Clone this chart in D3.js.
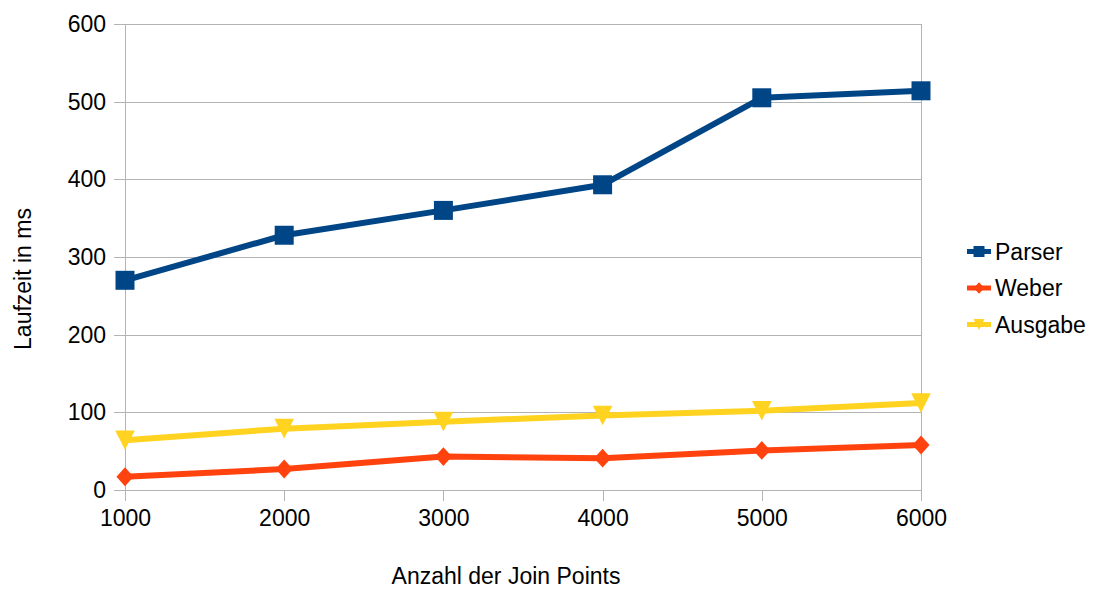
<!DOCTYPE html>
<html>
<head>
<meta charset="utf-8">
<script src="https://cdn.jsdelivr.net/npm/d3@7"></script>
<style>
  html, body { margin: 0; padding: 0; background: #fff; }
  svg { display: block; }
  text { font-family: "Liberation Sans", Arial, sans-serif; fill: #000; }
</style>
</head>
<body>
<svg id="chart" width="1100" height="589"></svg>
<script>
// Join point counts on the x axis
const joinPoints = [1000, 2000, 3000, 4000, 5000, 6000];
// Running times in ms per phase
const parserValues = [270, 328, 360, 393, 505, 514];
const weberValues = [17, 27, 43, 41, 51, 58];
const ausgabeValues = [64, 79, 88, 96, 102, 112];
const yTicks = [0, 100, 200, 300, 400, 500, 600];
const seriesNames = ["Parser", "Weber", "Ausgabe"];

const series = [
  { name: seriesNames[0], values: parserValues, color: "#004586", symbol: "square" },
  { name: seriesNames[1], values: weberValues, color: "#ff420e", symbol: "diamond" },
  { name: seriesNames[2], values: ausgabeValues, color: "#ffd320", symbol: "triangleDown" }
];

const svg = d3.select("#chart");
const plotLeft = 125, plotRight = 921, plotTop = 24, plotBottom = 490;
const x = d3.scaleLinear().domain([1000, 6000]).range([plotLeft, plotRight]);
const y = d3.scaleLinear().domain([0, 600]).range([plotBottom, plotTop]);

const gridColor = "#b3b3b3";
const fontSize = 23;
const tickLen = 11;

// Y axis with horizontal grid lines
const yAxis = svg.append("g")
  .attr("transform", `translate(${plotLeft - tickLen},0)`)
  .call(d3.axisLeft(y).tickValues(yTicks).tickSize(-(plotRight - plotLeft + tickLen)).tickPadding(8));
yAxis.select(".domain").remove();
yAxis.selectAll(".tick line").attr("stroke", gridColor).attr("shape-rendering", "crispEdges");
yAxis.selectAll(".tick text").attr("font-size", fontSize).attr("font-family", "Liberation Sans, Arial, sans-serif").attr("fill", "#000");

// X axis: short ticks below the plot
const xAxis = svg.append("g")
  .attr("transform", `translate(0,${plotBottom})`)
  .call(d3.axisBottom(x).tickValues(joinPoints).tickFormat(d3.format("d")).tickSize(tickLen).tickPadding(9));
xAxis.select(".domain").remove();
xAxis.selectAll(".tick line").attr("stroke", gridColor).attr("shape-rendering", "crispEdges");
xAxis.selectAll(".tick text").attr("font-size", fontSize).attr("font-family", "Liberation Sans, Arial, sans-serif").attr("fill", "#000");

// Left axis line and right frame edge
svg.append("g").selectAll("line")
  .data(x.domain())
  .join("line")
  .attr("x1", d => x(d)).attr("x2", d => x(d))
  .attr("y1", plotTop).attr("y2", plotBottom)
  .attr("stroke", gridColor)
  .attr("shape-rendering", "crispEdges");

// Axis titles
svg.append("text")
  .attr("x", 506).attr("y", 584)
  .attr("text-anchor", "middle")
  .attr("font-size", fontSize)
  .text("Anzahl der Join Points");

svg.append("text")
  .attr("transform", "translate(31,279) rotate(-90)")
  .attr("text-anchor", "middle")
  .attr("font-size", fontSize)
  .text("Laufzeit in ms");

// Marker shapes
function markerPath(symbol, s) {
  if (symbol === "square") {
    return `M${-s},${-s}H${s}V${s}H${-s}Z`;
  } else if (symbol === "diamond") {
    return `M0,${-s * 1.05}L${s * 0.95},0L0,${s * 1.05}L${-s * 0.95},0Z`;
  } else {
    return `M${-s},${-s}L${s},${-s}L0,${s}Z`;
  }
}
const markerSize = { square: 9.5, diamond: 9, triangleDown: 9.8 };

const line = d3.line().x((d, i) => x(joinPoints[i])).y(d => y(d));

const plot = svg.append("g");
series.forEach(s => {
  plot.append("path")
    .datum(s.values)
    .attr("d", line)
    .attr("fill", "none")
    .attr("stroke", s.color)
    .attr("stroke-width", 6)
    .attr("stroke-linejoin", "round");
  plot.selectAll(null)
    .data(s.values)
    .join("path")
    .attr("transform", (d, i) => `translate(${x(joinPoints[i])},${y(d)})`)
    .attr("d", markerPath(s.symbol, markerSize[s.symbol]))
    .attr("fill", s.color);
});

// Legend
const legend = svg.append("g");
const legendY = d3.scalePoint().domain(seriesNames).range([251.5, 324.5]);
series.forEach(s => {
  const g = legend.append("g").attr("transform", `translate(979,${legendY(s.name)})`);
  g.append("line")
    .attr("x1", -12).attr("x2", 12)
    .attr("stroke", s.color).attr("stroke-width", 5);
  g.append("path")
    .attr("d", markerPath(s.symbol, 5.5))
    .attr("fill", s.color);
  g.append("text")
    .attr("x", 16).attr("y", 8)
    .attr("font-size", fontSize)
    .text(s.name);
});
</script>
</body>
</html>
